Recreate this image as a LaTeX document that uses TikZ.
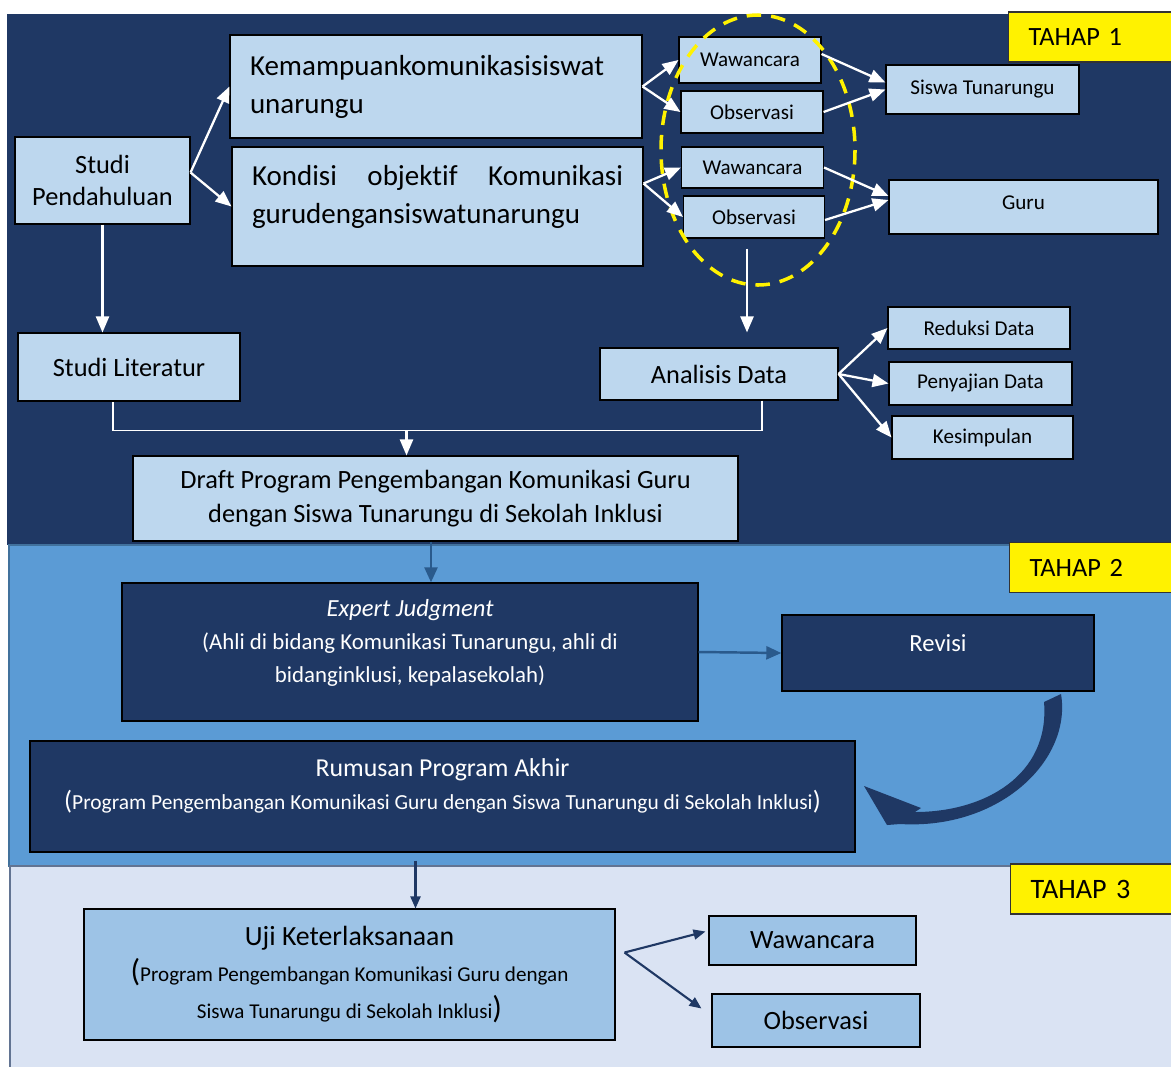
\documentclass[tikz,border=0pt]{standalone}
\usepackage{fontspec}
\setmainfont{Carlito}[Ligatures=NoCommon]
\usetikzlibrary{arrows.meta,calc}

\definecolor{navy}{HTML}{1F3864}
\definecolor{midblue}{HTML}{5B9BD5}
\definecolor{bandedge}{HTML}{41719C}
\definecolor{paleblue}{HTML}{DAE3F3}
\definecolor{boxblue}{HTML}{BDD7EE}
\definecolor{ujiblue}{HTML}{9DC3E6}
\definecolor{arrowblue}{HTML}{2A5A8C}

\newcommand{\fsz}[2]{\fontsize{#1}{#2}\selectfont}

\tikzset{
  lightbox/.style={draw=black, fill=boxblue, line width=0.6pt, inner sep=0pt, align=center},
  darkbox/.style={draw=black, fill=navy, text=white, line width=0.8pt, inner sep=0pt, align=center},
  ujibox/.style={draw=black, fill=ujiblue, line width=0.6pt, inner sep=0pt, align=center},
  tahapbox/.style={draw=black!80, fill=yellow, line width=0.6pt, anchor=west, inner xsep=4mm,
    text width=36mm, align=left, minimum height=10mm, font=\fsz{15}{18}},
  whitearrow/.style={draw=white, line width=1.3pt, -{Triangle[length=3.2mm,width=2.6mm]}},
  whiteline/.style={draw=white, line width=0.6pt},
  bluearrow/.style={draw=arrowblue, line width=1.4pt, -{Triangle[length=3mm,width=2.6mm]}},
  navyarrow/.style={draw=navy, line width=1.2pt, -{Triangle[length=2.4mm,width=2mm]}}
}

\begin{document}
\begin{tikzpicture}[x=0.2mm, y=-0.2mm]

\useasboundingbox (0,0) rectangle (1171,1066);
\clip (0,0) rectangle (1171,1066);

\fill[white] (0,0) rectangle (1171,1066);
\fill[navy] (7,14) rectangle (1180,545);
\draw[fill=midblue, draw=bandedge, line width=1pt] (9,545) rectangle (1180,866);
\draw[fill=paleblue, draw=navy!70, line width=0.6pt] (10,866) rectangle (1180,1075);

% tahap 1
\node[lightbox, minimum width=35mm, minimum height=17.4mm, font=\fsz{15}{18.2}] (pend) at (102.5,180.5) {Studi\\Pendahuluan};
\node[lightbox, minimum width=82.4mm, minimum height=20.6mm, text width=74.4mm, align=left, font=\fsz{16.5}{21.6}] (kem) at (436,86.5) {Kemampuankomunikasisiswat\\unarungu};
\node[lightbox, minimum width=82.2mm, minimum height=23.8mm, text width=74.2mm, align=justify, font=\fsz{16.5}{21.6}] (kon) at (437.5,206.5) {Kondisi objektif Komunikasi\linebreak gurudengansiswatunarungu\rule[-5mm]{0pt}{0pt}};

\node[lightbox, minimum width=28.4mm, minimum height=9.2mm, font=\fsz{12}{14}] (waw1) at (750,60) {Wawancara};
\node[lightbox, minimum width=28.4mm, minimum height=8.4mm, font=\fsz{12}{14}] (obs1) at (752,112) {Observasi};
\node[lightbox, minimum width=28.4mm, minimum height=8.2mm, font=\fsz{12}{14}] (waw2) at (752.5,167.5) {Wawancara};
\node[lightbox, minimum width=28.2mm, minimum height=8.4mm, font=\fsz{12}{14}] (obs2) at (754,217) {Observasi};

\node[lightbox, minimum width=38.6mm, minimum height=9.8mm, font=\fsz{12}{14}] (siswa) at (982.5,89.5) {Siswa Tunarungu};
\node[lightbox, minimum width=53.8mm, minimum height=10.8mm, font=\fsz{12}{14}] (guru) at (1023.5,207) {Guru\rule[-1.6mm]{0pt}{0pt}};

\draw[yellow, line width=2pt, dash pattern=on 2.9mm off 2mm] (758,150) ellipse [x radius=97, y radius=135];

\node[lightbox, minimum width=47.6mm, minimum height=10.4mm, font=\fsz{15}{18}] (ana) at (719,374) {Analisis Data};
\node[lightbox, minimum width=36.4mm, minimum height=8.4mm, font=\fsz{12}{14}] (red) at (979,328) {Reduksi Data};
\node[lightbox, minimum width=36.6mm, minimum height=8.6mm, font=\fsz{12}{14}] (pen) at (980.5,383.5) {Penyajian Data};
\node[lightbox, minimum width=36.2mm, minimum height=8.6mm, font=\fsz{12}{14}] (kes) at (982.5,437.5) {Kesimpulan};

\node[lightbox, minimum width=44.4mm, minimum height=13.6mm, font=\fsz{15}{18}] (lit) at (129,367) {Studi Literatur};
\node[lightbox, minimum width=121mm, minimum height=17mm, font=\fsz{15}{19.3}] (draft) at (435.5,498.5) {Draft Program Pengembangan Komunikasi Guru\\dengan Siswa Tunarungu di Sekolah Inklusi};

\node[tahapbox] (tahap1) at (1008,37) {TAHAP 1};

\draw[whitearrow] ($(pend.east)+(0,-8)$) -- (kem.west);
\draw[whitearrow] ($(pend.east)+(0,-8)$) -- (kon.west);
\draw[whitearrow] (kem.east) -- (waw1.west);
\draw[whitearrow] (kem.east) -- (obs1.west);
\draw[whitearrow] ($(kon.east)+(0,-23)$) -- (waw2.west);
\draw[whitearrow] ($(kon.east)+(0,-23)$) -- (obs2.west);
\draw[whitearrow] ($(waw1.east)+(0,-6)$) -- ($(siswa.west)+(0,-7)$);
\draw[whitearrow] (obs1.east) -- (siswa.west);
\draw[whitearrow] (waw2.east) -- ($(guru.west)+(0,-11)$);
\draw[whitearrow] ($(obs2.east)+(0,3)$) -- ($(guru.west)+(0,-7)$);
\draw[whitearrow] ($(obs2.south)+(-7,10)$) -- ($(ana.north)+(28,-15)$);
\draw[whitearrow] (ana.east) -- (red.west);
\draw[whitearrow] (ana.east) -- (pen.west);
\draw[whitearrow] (ana.east) -- (kes.west);
\draw[whitearrow] (pend.south) -- (pend.south |- lit.north);

\coordinate (merge) at ($(draft.north)+(-29,-25)$);
\draw[whiteline] ($(ana.south)+(43,0)$) |- (merge) -| ($(lit.south)+(-16,0)$);
\draw[whitearrow] (merge) -- (merge |- draft.north);

% tahap 2
\node[darkbox, minimum width=115.2mm, minimum height=27.6mm, font=\fsz{13}{18.8}] (exp) at (410,652)
  {{\fsz{14}{18.8}\itshape Expert Judgment}\\(Ahli di bidang Komunikasi Tunarungu, ahli di\\bidanginklusi, kepalasekolah)\rule[-4.5mm]{0pt}{0pt}};
\node[darkbox, minimum width=62.4mm, minimum height=15.2mm, font=\fsz{14}{18}] (rev) at (938,653) {Revisi\rule[-4mm]{0pt}{0pt}};
\node[darkbox, minimum width=165mm, minimum height=22.2mm, font=\fsz{12.2}{19.3}] (rum) at (442.5,796.5)
  {{\fsz{14.7}{19.3}Rumusan Program Akhir}\\{\fsz{15}{19.3}(}Program Pengembangan Komunikasi Guru dengan Siswa Tunarungu di Sekolah Inklusi{\fsz{15}{19.3})}\rule[-5mm]{0pt}{0pt}};

\node[tahapbox] (tahap2) at (1009,567.5) {TAHAP 2};

\draw[bluearrow] ($(draft.south)+(-4.5,0)$) -- ($(draft.south |- exp.north)+(-4.5,0)$);
\draw[bluearrow] (exp.east) -- (rev.west);
\fill[navy] (1061,694) .. controls (1072,760) and (1000,830) .. (900,824)
  -- (887,825) -- (864,786) -- (921,808) -- (915,812)
  .. controls (985,812) and (1050,775) .. (1044,702) -- cycle;

% tahap 3
\node[ujibox, minimum width=106.2mm, minimum height=26.2mm, font=\fsz{12}{21}] (uji) at (349.5,974.5)
  {{\fsz{15.8}{21}Uji Keterlaksanaan}\\{\fsz{18}{21}(}Program Pengembangan Komunikasi Guru dengan\\Siswa Tunarungu di Sekolah Inklusi{\fsz{18}{21})}};
\node[ujibox, minimum width=41.4mm, minimum height=9.8mm, font=\fsz{15}{18}] (waw3) at (812.5,940.5) {Wawancara};
\node[ujibox, minimum width=41.6mm, minimum height=10.6mm, font=\fsz{15}{18}] (obs3) at (816,1020.5) {Observasi};

\node[tahapbox, font=\fsz{16}{18}] (tahap3) at (1010,889) {TAHAP 3};

\draw[navyarrow] ($(rum.south)+(-27,8)$) coordinate (drop) -- (drop |- uji.north);
\draw[navyarrow] ($(uji.east)+(9,-22)$) -- ($(waw3.west)+(-3,-9)$);
\draw[navyarrow] ($(uji.east)+(9,-22)$) -- ($(obs3.west)+(-10,-12)$);

\end{tikzpicture}
\end{document}
